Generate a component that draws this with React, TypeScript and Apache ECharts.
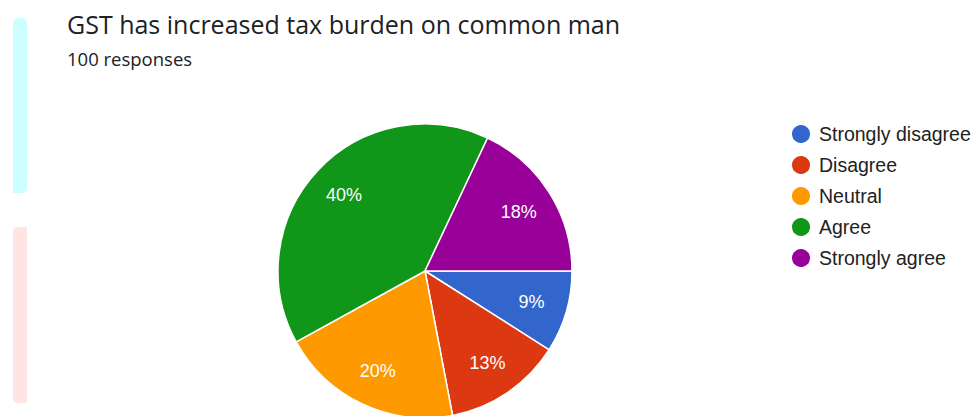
import React, { useEffect, useRef } from "react";
import * as echarts from "echarts";

const titleText = "GST has increased tax burden on common man";
const subtitleText = "100 responses";
const categories = ["Strongly disagree", "Disagree", "Neutral", "Agree", "Strongly agree"];
const values = [9, 13, 20, 40, 18];
const colors = ["#3366CC", "#DC3912", "#FF9900", "#109618", "#990099"];

export default function App() {
  const ref = useRef<HTMLDivElement>(null);
  useEffect(() => {
    if (!ref.current) return;
    const chart = echarts.init(ref.current, null, { renderer: "svg" });
    const data = categories.map((name, i) => ({
      name,
      value: values[i],
      itemStyle: { color: colors[i] },
    }));
    const labelData = categories.map((name, i) => ({
      name,
      value: values[i],
    }));
    chart.setOption({
      animation: false,
      backgroundColor: "#ffffff",
      title: {
        text: titleText,
        subtext: subtitleText,
        left: 62,
        top: 6,
        itemGap: 13,
        textStyle: {
          fontFamily: "Open Sans",
          fontSize: 25,
          fontWeight: "normal",
          color: "#202124",
        },
        subtextStyle: {
          fontFamily: "Open Sans",
          fontSize: 18.5,
          color: "#202124",
        },
      },
      legend: {
        orient: "vertical",
        left: 785,
        top: 118,
        icon: "circle",
        itemWidth: 20,
        itemHeight: 20,
        itemGap: 9,
        selectedMode: false,
        data: categories.map((name, i) => ({ name, itemStyle: { color: colors[i] } })),
        textStyle: {
          fontFamily: "Liberation Sans, Arial",
          fontSize: 19.5,
          lineHeight: 20,
          color: "#222222",
          padding: [0, 0, 0, 3],
        },
      },
      graphic: [
        {
          type: "rect",
          shape: { x: 13, y: 18, width: 14, height: 175, r: [5, 5, 5, 0] },
          style: { fill: "#ccffff" },
          silent: true,
        },
        {
          type: "rect",
          shape: { x: 13, y: 227, width: 14, height: 176, r: [5, 0, 0, 5] },
          style: { fill: "#ffe4e4" },
          silent: true,
        },
      ],
      series: [
        {
          type: "pie",
          center: [425, 271],
          radius: [0, 147],
          startAngle: 0,
          clockwise: true,
          silent: true,
          data,
          label: { show: false },
          labelLine: { show: false },
          itemStyle: { borderColor: "#ffffff", borderWidth: 1.5 },
        },
        {
          type: "pie",
          center: [425, 271],
          radius: [69, 147],
          startAngle: 0,
          clockwise: true,
          silent: true,
          data: labelData,
          itemStyle: { color: "rgba(0,0,0,0)", borderWidth: 0 },
          label: {
            show: true,
            position: "inside",
            formatter: "{d}%",
            fontFamily: "Liberation Sans, Arial",
            fontSize: 18,
            color: "#ffffff",
          },
          labelLine: { show: false },
        },
      ],
    });
    return () => chart.dispose();
  }, []);
  return (
    <div
      ref={ref}
      style={{ position: "fixed", left: 0, top: 0, width: 973, height: 416 }}
    />
  );
}
